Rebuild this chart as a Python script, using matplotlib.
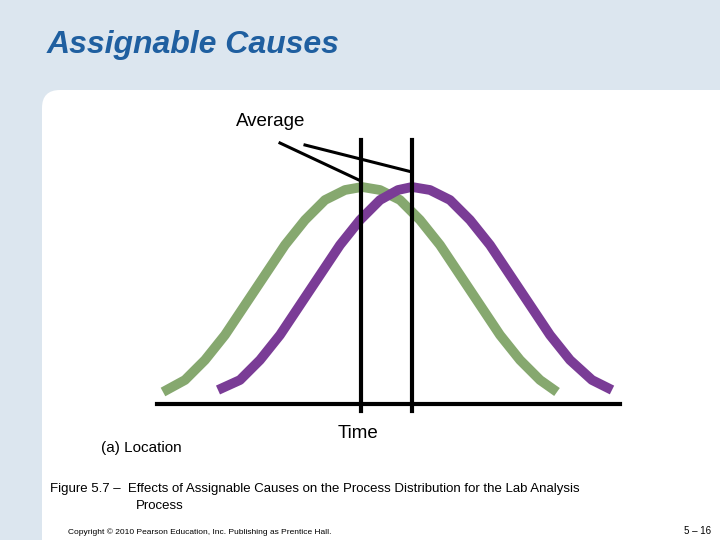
import matplotlib.pyplot as plt
from matplotlib.patches import FancyBboxPatch

plt.rcParams['font.family'] = 'Liberation Sans'

# curve points (pixel coords, y down)
green_x = [163, 185, 205, 225, 245, 265, 285, 305, 325, 345, 362, 380, 400, 420, 440, 460, 480, 500, 520, 540, 557]
green_y = [392, 380, 360, 335, 305, 275, 245, 220, 200, 190, 187, 190, 200, 220, 245, 275, 305, 335, 360, 380, 392]
purple_x = [218, 240, 260, 280, 300, 320, 340, 360, 380, 398, 412, 430, 450, 470, 490, 510, 530, 550, 570, 592, 612]
purple_y = [390, 380, 360, 335, 305, 275, 245, 220, 200, 190, 187, 190, 200, 220, 245, 275, 305, 335, 360, 380, 390]
avg_x = [361, 412]

fig = plt.figure(figsize=(7.2, 5.4), dpi=100)
fig.patch.set_facecolor('#dce6ef')
ax = fig.add_axes([0, 0, 1, 1])
ax.set_xlim(0, 720)
ax.set_ylim(540, 0)
ax.axis('off')

ax.add_patch(FancyBboxPatch((42, 90), 720, 500, boxstyle="round,pad=0,rounding_size=18",
                            fc='white', ec='none'))
ax.text(47, 45, "Assignable Causes", fontsize=23, fontweight='bold', style='italic',
        color='#1f5fa0', va='center')

ax.plot(green_x, green_y, color='#86a86f', lw=7, solid_capstyle='butt', solid_joinstyle='round')
ax.plot(purple_x, purple_y, color='#7a3c96', lw=7, solid_capstyle='butt', solid_joinstyle='round')
ax.plot([157, 620], [404, 404], color='black', lw=3)
for x in avg_x:
    ax.plot([x, x], [140, 411], color='black', lw=3)
ax.plot([280, 361], [143, 181], color='black', lw=2.2)
ax.plot([305, 412], [145, 172], color='black', lw=2.2)

ax.text(271, 121, "Average", fontsize=13.5, ha='center', va='center')
ax.text(358, 433, "Time", fontsize=13.5, ha='center', va='center')
ax.text(101, 448, "(a) Location", fontsize=11, ha='left', va='center')
ax.text(50, 489, "Figure 5.7 \u2013  Effects of Assignable Causes on the Process Distribution for the Lab Analysis",
        fontsize=9.5, va='center')
ax.text(136, 506, "Process", fontsize=9.5, va='center')
ax.text(68, 532, "Copyright \u00a9 2010 Pearson Education, Inc. Publishing as Prentice Hall.",
        fontsize=6, va='center')
ax.text(711, 531, "5 \u2013 16", fontsize=7, ha='right', va='center')

fig.savefig("out.png", dpi=100, facecolor=fig.get_facecolor())
